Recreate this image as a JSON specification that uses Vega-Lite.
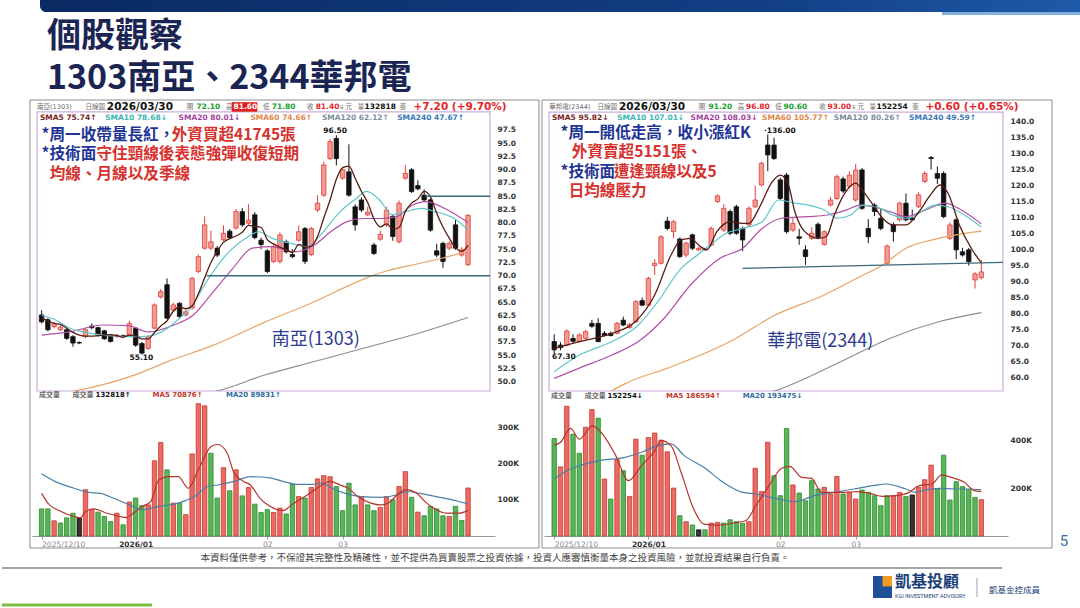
{
"$schema": "https://vega.github.io/schema/vega-lite/v6.json",
"padding": 0,
"background": "#ffffff",
"config": {"view": {"stroke": null}, "axis": {"grid": false, "labelOverlap": false, "labelSeparation": 0}},
"datasets": {
"L": [
{"i":0,"o":62.6,"h":63.5,"l":61.0,"c":61.3,"v":75,"d":"dn"},
{"i":1,"o":61.7,"h":62.0,"l":59.5,"c":59.8,"v":75,"d":"dn"},
{"i":2,"o":60.4,"h":61.3,"l":60.1,"c":61.0,"v":42,"d":"up"},
{"i":3,"o":59.8,"h":60.6,"l":59.6,"c":60.3,"v":36,"d":"dn"},
{"i":4,"o":59.8,"h":60.1,"l":57.9,"c":58.2,"v":50,"d":"dn"},
{"i":5,"o":58.5,"h":58.8,"l":56.6,"c":57.3,"v":63,"d":"dn"},
{"i":6,"o":57.4,"h":57.6,"l":57.1,"c":57.3,"v":50,"d":"eq"},
{"i":7,"o":58.5,"h":60.1,"l":58.2,"c":59.8,"v":128,"d":"up"},
{"i":8,"o":60.5,"h":61.0,"l":59.9,"c":60.2,"v":73,"d":"up"},
{"i":9,"o":60.2,"h":60.4,"l":58.5,"c":58.8,"v":66,"d":"dn"},
{"i":10,"o":59.6,"h":59.8,"l":57.9,"c":58.1,"v":54,"d":"dn"},
{"i":11,"o":58.8,"h":59.0,"l":57.4,"c":57.6,"v":40,"d":"dn"},
{"i":12,"o":58.5,"h":59.0,"l":58.3,"c":58.8,"v":63,"d":"up"},
{"i":13,"o":58.7,"h":58.9,"l":58.3,"c":58.5,"v":31,"d":"dn"},
{"i":14,"o":58.8,"h":61.5,"l":58.6,"c":61.0,"v":94,"d":"up"},
{"i":15,"o":60.1,"h":60.3,"l":56.6,"c":56.9,"v":105,"d":"dn"},
{"i":16,"o":57.2,"h":57.5,"l":55.1,"c":55.4,"v":84,"d":"dn"},
{"i":17,"o":56.3,"h":58.8,"l":56.0,"c":58.5,"v":86,"d":"up"},
{"i":18,"o":60.1,"h":64.8,"l":59.9,"c":64.5,"v":208,"d":"up"},
{"i":19,"o":66.0,"h":67.5,"l":65.7,"c":67.0,"v":259,"d":"up"},
{"i":20,"o":68.3,"h":69.5,"l":61.8,"c":62.0,"v":183,"d":"dn"},
{"i":21,"o":63.5,"h":64.9,"l":63.2,"c":64.5,"v":91,"d":"up"},
{"i":22,"o":64.8,"h":65.0,"l":62.0,"c":62.3,"v":91,"d":"dn"},
{"i":23,"o":62.6,"h":63.8,"l":62.3,"c":63.2,"v":59,"d":"up"},
{"i":24,"o":63.9,"h":69.8,"l":63.6,"c":69.5,"v":227,"d":"up"},
{"i":25,"o":70.8,"h":74.0,"l":70.5,"c":73.6,"v":366,"d":"up"},
{"i":26,"o":75.2,"h":81.2,"l":74.9,"c":79.6,"v":360,"d":"up"},
{"i":27,"o":75.2,"h":78.5,"l":74.8,"c":76.4,"v":229,"d":"dn"},
{"i":28,"o":75.2,"h":75.6,"l":73.5,"c":73.9,"v":105,"d":"dn"},
{"i":29,"o":76.8,"h":79.5,"l":76.5,"c":78.0,"v":189,"d":"up"},
{"i":30,"o":78.4,"h":78.8,"l":76.9,"c":77.2,"v":125,"d":"dn"},
{"i":31,"o":79.0,"h":82.6,"l":78.7,"c":82.1,"v":183,"d":"up"},
{"i":32,"o":82.1,"h":82.8,"l":79.2,"c":79.6,"v":111,"d":"dn"},
{"i":33,"o":79.9,"h":83.5,"l":79.6,"c":80.5,"v":134,"d":"up"},
{"i":34,"o":81.5,"h":82.0,"l":76.9,"c":77.2,"v":88,"d":"dn"},
{"i":35,"o":76.7,"h":77.2,"l":75.0,"c":75.9,"v":65,"d":"dn"},
{"i":36,"o":74.7,"h":75.0,"l":70.5,"c":70.8,"v":73,"d":"dn"},
{"i":37,"o":72.7,"h":76.0,"l":72.4,"c":75.5,"v":65,"d":"up"},
{"i":38,"o":72.7,"h":78.2,"l":72.3,"c":77.7,"v":77,"d":"up"},
{"i":39,"o":76.4,"h":76.8,"l":74.2,"c":74.5,"v":61,"d":"dn"},
{"i":40,"o":74.0,"h":75.0,"l":73.3,"c":73.6,"v":143,"d":"dn"},
{"i":41,"o":76.7,"h":79.5,"l":76.4,"c":78.3,"v":109,"d":"up"},
{"i":42,"o":78.9,"h":79.2,"l":72.2,"c":72.7,"v":105,"d":"dn"},
{"i":43,"o":74.0,"h":79.2,"l":73.7,"c":78.9,"v":134,"d":"up"},
{"i":44,"o":82.4,"h":85.2,"l":82.0,"c":83.7,"v":158,"d":"up"},
{"i":45,"o":85.2,"h":91.5,"l":84.9,"c":90.9,"v":167,"d":"up"},
{"i":46,"o":92.1,"h":95.8,"l":91.8,"c":95.3,"v":164,"d":"up"},
{"i":47,"o":95.9,"h":96.5,"l":90.8,"c":92.1,"v":137,"d":"dn"},
{"i":48,"o":88.4,"h":90.5,"l":88.1,"c":90.0,"v":70,"d":"dn"},
{"i":49,"o":89.6,"h":94.8,"l":84.9,"c":85.2,"v":146,"d":"dn"},
{"i":50,"o":83.0,"h":83.5,"l":78.5,"c":79.6,"v":86,"d":"dn"},
{"i":51,"o":84.3,"h":84.8,"l":82.0,"c":82.4,"v":109,"d":"up"},
{"i":52,"o":81.5,"h":83.0,"l":81.2,"c":82.0,"v":86,"d":"dn"},
{"i":53,"o":75.8,"h":76.2,"l":73.9,"c":74.2,"v":70,"d":"dn"},
{"i":54,"o":76.9,"h":78.5,"l":76.6,"c":77.8,"v":79,"d":"up"},
{"i":55,"o":79.6,"h":83.0,"l":79.2,"c":82.4,"v":109,"d":"up"},
{"i":56,"o":81.2,"h":81.5,"l":76.6,"c":77.4,"v":100,"d":"dn"},
{"i":57,"o":76.4,"h":84.2,"l":76.1,"c":83.7,"v":137,"d":"up"},
{"i":58,"o":88.4,"h":90.9,"l":88.1,"c":89.3,"v":178,"d":"up"},
{"i":59,"o":90.0,"h":90.3,"l":85.6,"c":85.9,"v":107,"d":"dn"},
{"i":60,"o":87.0,"h":88.0,"l":86.1,"c":86.4,"v":66,"d":"up"},
{"i":61,"o":85.2,"h":86.3,"l":83.9,"c":84.3,"v":56,"d":"dn"},
{"i":62,"o":84.3,"h":84.6,"l":78.3,"c":78.6,"v":82,"d":"dn"},
{"i":63,"o":74.7,"h":76.0,"l":73.5,"c":73.9,"v":75,"d":"dn"},
{"i":64,"o":76.1,"h":76.4,"l":71.5,"c":72.7,"v":56,"d":"dn"},
{"i":65,"o":75.2,"h":76.5,"l":74.9,"c":76.1,"v":54,"d":"up"},
{"i":66,"o":79.6,"h":80.5,"l":74.9,"c":75.2,"v":82,"d":"dn"},
{"i":67,"o":73.9,"h":75.4,"l":73.6,"c":74.9,"v":43,"d":"dn"},
{"i":68,"o":72.1,"h":81.6,"l":71.8,"c":81.4,"v":132.8,"d":"up"}
],
"Lm": [
{"m":"5","i":0,"p":62.0},{"m":"5","i":1,"p":61.5},{"m":"5","i":2,"p":61.0},{"m":"5","i":3,"p":60.8},{"m":"5","i":4,"p":60.1},{"m":"5","i":5,"p":59.3},{"m":"5","i":6,"p":58.8},{"m":"5","i":7,"p":58.6},{"m":"5","i":8,"p":58.6},{"m":"5","i":9,"p":58.7},{"m":"5","i":10,"p":58.8},{"m":"5","i":11,"p":58.9},{"m":"5","i":12,"p":58.7},{"m":"5","i":13,"p":58.4},{"m":"5","i":14,"p":58.8},{"m":"5","i":15,"p":58.6},{"m":"5","i":16,"p":58.1},{"m":"5","i":17,"p":58.1},{"m":"5","i":18,"p":59.3},{"m":"5","i":19,"p":60.5},{"m":"5","i":20,"p":61.5},{"m":"5","i":21,"p":63.3},{"m":"5","i":22,"p":64.1},{"m":"5","i":23,"p":63.8},{"m":"5","i":24,"p":64.3},{"m":"5","i":25,"p":66.6},{"m":"5","i":26,"p":69.6},{"m":"5","i":27,"p":72.5},{"m":"5","i":28,"p":74.6},{"m":"5","i":29,"p":76.3},{"m":"5","i":30,"p":77.0},{"m":"5","i":31,"p":77.5},{"m":"5","i":32,"p":78.2},{"m":"5","i":33,"p":79.5},{"m":"5","i":34,"p":79.3},{"m":"5","i":35,"p":79.1},{"m":"5","i":36,"p":76.8},{"m":"5","i":37,"p":76.0},{"m":"5","i":38,"p":75.4},{"m":"5","i":39,"p":74.9},{"m":"5","i":40,"p":74.4},{"m":"5","i":41,"p":75.9},{"m":"5","i":42,"p":75.4},{"m":"5","i":43,"p":75.6},{"m":"5","i":44,"p":77.4},{"m":"5","i":45,"p":80.9},{"m":"5","i":46,"p":84.3},{"m":"5","i":47,"p":88.2},{"m":"5","i":48,"p":90.4},{"m":"5","i":49,"p":90.7},{"m":"5","i":50,"p":88.4},{"m":"5","i":51,"p":85.9},{"m":"5","i":52,"p":83.8},{"m":"5","i":53,"p":80.7},{"m":"5","i":54,"p":79.2},{"m":"5","i":55,"p":79.8},{"m":"5","i":56,"p":78.8},{"m":"5","i":57,"p":79.1},{"m":"5","i":58,"p":82.1},{"m":"5","i":59,"p":83.7},{"m":"5","i":60,"p":84.5},{"m":"5","i":61,"p":85.9},{"m":"5","i":62,"p":84.9},{"m":"5","i":63,"p":81.8},{"m":"5","i":64,"p":79.2},{"m":"5","i":65,"p":77.1},{"m":"5","i":66,"p":75.3},{"m":"5","i":67,"p":74.6},{"m":"5","i":68,"p":75.74},
{"m":"10","i":0,"p":62.5},{"m":"10","i":2,"p":61.8},{"m":"10","i":4.5,"p":60.1},{"m":"10","i":7,"p":59.3},{"m":"10","i":9.7,"p":58.8},{"m":"10","i":12,"p":58.6},{"m":"10","i":14.9,"p":58.5},{"m":"10","i":17,"p":58.6},{"m":"10","i":20.1,"p":60.1},{"m":"10","i":22,"p":62.0},{"m":"10","i":23.7,"p":63.8},{"m":"10","i":26.3,"p":68.9},{"m":"10","i":29.4,"p":73.9},{"m":"10","i":32.6,"p":77.1},{"m":"10","i":34.6,"p":78.3},{"m":"10","i":36.7,"p":77.1},{"m":"10","i":39.8,"p":76.1},{"m":"10","i":42.4,"p":75.5},{"m":"10","i":44.5,"p":77.7},{"m":"10","i":47.6,"p":82.1},{"m":"10","i":50.2,"p":84.6},{"m":"10","i":51.8,"p":85.9},{"m":"10","i":53.9,"p":84.3},{"m":"10","i":55.9,"p":81.5},{"m":"10","i":58,"p":82.1},{"m":"10","i":60.6,"p":82.7},{"m":"10","i":62.7,"p":82.1},{"m":"10","i":65.8,"p":80.8},{"m":"10","i":68,"p":78.68},
{"m":"20","i":0,"p":58.8},{"m":"20","i":4.5,"p":59.4},{"m":"20","i":9.7,"p":60.7},{"m":"20","i":13.8,"p":60.6},{"m":"20","i":17,"p":59.4},{"m":"20","i":21.1,"p":60.7},{"m":"20","i":24.2,"p":62.6},{"m":"20","i":27.4,"p":67.0},{"m":"20","i":30.5,"p":71.4},{"m":"20","i":33.6,"p":75.2},{"m":"20","i":36.7,"p":75.5},{"m":"20","i":40.3,"p":74.5},{"m":"20","i":43.5,"p":75.8},{"m":"20","i":46.1,"p":78.3},{"m":"20","i":48.7,"p":80.2},{"m":"20","i":51.3,"p":80.8},{"m":"20","i":53.9,"p":80.8},{"m":"20","i":56.5,"p":81.1},{"m":"20","i":59.1,"p":83.3},{"m":"20","i":61.2,"p":84.0},{"m":"20","i":64.3,"p":82.7},{"m":"20","i":67.4,"p":80.5},{"m":"20","i":68,"p":80.01},
{"m":"60","i":3,"p":47.8},{"m":"60","i":4.5,"p":48.1},{"m":"60","i":14.9,"p":51.3},{"m":"60","i":20.1,"p":53.8},{"m":"60","i":27.4,"p":56.9},{"m":"60","i":35.7,"p":61.3},{"m":"60","i":43.5,"p":65.1},{"m":"60","i":48.7,"p":68.0},{"m":"60","i":51.8,"p":69.6},{"m":"60","i":55,"p":70.9},{"m":"60","i":59,"p":72.0},{"m":"60","i":63.8,"p":73.3},{"m":"60","i":68,"p":74.66},
{"m":"120","i":26,"p":47.8},{"m":"120","i":27.4,"p":48.1},{"m":"120","i":35.7,"p":51.3},{"m":"120","i":43.5,"p":53.8},{"m":"120","i":51.3,"p":56.3},{"m":"120","i":59.1,"p":58.8},{"m":"120","i":68,"p":62.12}
],
"La": [
{"g":"lab","r":"gray","i":-0.72,"p":101.84,"t":"南亞(1303)"},
{"g":"lab","r":"gray","i":7.0,"p":101.84,"t":"日線圖"},
{"g":"bigv","r":"black","i":10.4,"p":101.84,"t":"2026/03/30"},
{"g":"lab","r":"gray","i":23.14,"p":101.84,"t":"開"},
{"g":"val","r":"dn","i":24.7,"p":101.84,"t":"72.10"},
{"g":"lab","r":"gray","i":29.4,"p":101.84,"t":"高"},
{"g":"val","r":"white","i":30.6,"p":101.84,"t":"81.60"},
{"g":"lab","r":"gray","i":35.3,"p":101.84,"t":"低"},
{"g":"val","r":"dn","i":36.7,"p":101.84,"t":"71.80"},
{"g":"lab","r":"gray","i":42.3,"p":101.84,"t":"收"},
{"g":"val","r":"up","i":43.7,"p":101.84,"t":"81.40"},
{"g":"lab","r":"gray","i":47.6,"p":101.84,"t":"s 元"},
{"g":"lab","r":"gray","i":50.4,"p":101.84,"t":"量"},
{"g":"val","r":"black","i":51.5,"p":101.84,"t":"132818"},
{"g":"lab","r":"gray","i":57.1,"p":101.84,"t":"張"},
{"g":"bigv","r":"up","i":59.3,"p":101.84,"t":"+7.20 (+9.70%)"},
{"g":"sma","r":"s5","i":-0.27,"p":99.76,"t":"SMA5 75.74↑"},
{"g":"sma","r":"s10","i":10.14,"p":99.76,"t":"SMA10 78.68↓"},
{"g":"sma","r":"s20","i":21.84,"p":99.76,"t":"SMA20 80.01↓"},
{"g":"sma","r":"s60","i":33.3,"p":99.76,"t":"SMA60 74.66↑"},
{"g":"sma","r":"s120","i":44.7,"p":99.76,"t":"SMA120 62.12↑"},
{"g":"sma","r":"s240","i":56.7,"p":99.76,"t":"SMA240 47.67↑"},
{"g":"big","r":"blue","i":0.0,"p":96.62,"t":"*周一收帶量長紅，"},
{"g":"big","r":"red","i":20.75,"p":96.62,"t":"外資買超41745張"},
{"g":"big","r":"blue","i":0.0,"p":93.0,"t":"*技術面"},
{"g":"big","r":"red","i":8.75,"p":93.0,"t":"守住頸線後表態強彈收復短期"},
{"g":"big","r":"red","i":1.3,"p":89.2,"t":"均線、月線以及季線"},
{"g":"name","r":"navy","i":36.7,"p":57.88,"t":"南亞(1303)"},
{"g":"lblc","r":"black","i":46.8,"p":97.3,"t":"96.50"},
{"g":"lblc","r":"black","i":15.9,"p":54.4,"t":"55.10"}
],
"Lvm": [
{"m":"5","i":0,"p":118},{"m":"5","i":1,"p":91},{"m":"5","i":3.1,"p":68},{"m":"5","i":5.2,"p":54},{"m":"5","i":6.2,"p":50},{"m":"5","i":7,"p":68},{"m":"5","i":8.3,"p":75},{"m":"5","i":10.4,"p":63},{"m":"5","i":12.5,"p":54},{"m":"5","i":13.5,"p":51},{"m":"5","i":14.6,"p":63},{"m":"5","i":16.1,"p":82},{"m":"5","i":17.4,"p":95},{"m":"5","i":18.7,"p":155},{"m":"5","i":20.3,"p":164},{"m":"5","i":21.8,"p":164},{"m":"5","i":23.4,"p":132},{"m":"5","i":25,"p":183},{"m":"5","i":27,"p":247},{"m":"5","i":28.1,"p":253},{"m":"5","i":29.6,"p":229},{"m":"5","i":30.7,"p":174},{"m":"5","i":32.2,"p":151},{"m":"5","i":33.3,"p":141},{"m":"5","i":34.8,"p":105},{"m":"5","i":36.4,"p":82},{"m":"5","i":38.5,"p":70},{"m":"5","i":40,"p":88},{"m":"5","i":41.6,"p":105},{"m":"5","i":43.2,"p":123},{"m":"5","i":44.7,"p":141},{"m":"5","i":46,"p":151},{"m":"5","i":47.6,"p":141},{"m":"5","i":48.9,"p":132},{"m":"5","i":50.4,"p":109},{"m":"5","i":52.5,"p":91},{"m":"5","i":54.1,"p":86},{"m":"5","i":55.6,"p":95},{"m":"5","i":56.7,"p":114},{"m":"5","i":58.2,"p":128},{"m":"5","i":59.8,"p":118},{"m":"5","i":61.4,"p":91},{"m":"5","i":62.9,"p":73},{"m":"5","i":64.5,"p":63},{"m":"5","i":66.6,"p":63},{"m":"5","i":68,"p":70.9},
{"m":"20","i":0,"p":172},{"m":"20","i":2.1,"p":151},{"m":"20","i":5.2,"p":132},{"m":"20","i":7.3,"p":121},{"m":"20","i":9.4,"p":118},{"m":"20","i":11.4,"p":105},{"m":"20","i":14,"p":86},{"m":"20","i":16.1,"p":73},{"m":"20","i":18.7,"p":82},{"m":"20","i":21.8,"p":91},{"m":"20","i":24.4,"p":109},{"m":"20","i":26.5,"p":137},{"m":"20","i":28.1,"p":141},{"m":"20","i":30.7,"p":151},{"m":"20","i":33.3,"p":164},{"m":"20","i":36.4,"p":161},{"m":"20","i":38.5,"p":151},{"m":"20","i":40.6,"p":143},{"m":"20","i":43.2,"p":143},{"m":"20","i":44.7,"p":146},{"m":"20","i":46.3,"p":132},{"m":"20","i":48.4,"p":118},{"m":"20","i":51,"p":109},{"m":"20","i":54.1,"p":107},{"m":"20","i":56.7,"p":114},{"m":"20","i":58.2,"p":123},{"m":"20","i":60.3,"p":118},{"m":"20","i":62.9,"p":109},{"m":"20","i":65.5,"p":100},{"m":"20","i":67.6,"p":91},{"m":"20","i":68,"p":89.8}
],
"Lva": [
{"r":"gray","i":-0.42,"p":389,"t":"成交量"},
{"r":"gray","i":4.93,"p":389,"t":"成交量"},
{"r":"black","i":8.6,"p":389,"t":"132818↑"},
{"r":"vma5","i":17.7,"p":389,"t":"MA5 70876↑"},
{"r":"vma20","i":29.4,"p":389,"t":"MA20 89831↑"}
],
"R": [
{"i":0,"o":71.2,"h":73.5,"l":67.3,"c":68.6,"v":409,"d":"dn"},
{"i":1,"o":70.1,"h":71.0,"l":68.5,"c":69.3,"v":290,"d":"up"},
{"i":2,"o":70.1,"h":75.0,"l":69.8,"c":74.5,"v":544,"d":"up"},
{"i":3,"o":72.2,"h":73.5,"l":70.8,"c":71.3,"v":427,"d":"dn"},
{"i":4,"o":71.2,"h":73.8,"l":70.9,"c":73.3,"v":347,"d":"dn"},
{"i":5,"o":72.2,"h":74.8,"l":71.8,"c":74.3,"v":456,"d":"up"},
{"i":6,"o":76.9,"h":78.0,"l":75.5,"c":76.0,"v":530,"d":"up"},
{"i":7,"o":76.9,"h":78.5,"l":71.0,"c":71.2,"v":494,"d":"dn"},
{"i":8,"o":73.8,"h":74.5,"l":72.8,"c":73.1,"v":239,"d":"up"},
{"i":9,"o":73.8,"h":74.3,"l":72.8,"c":73.1,"v":155,"d":"dn"},
{"i":10,"o":73.8,"h":77.4,"l":73.5,"c":76.9,"v":320,"d":"up"},
{"i":11,"o":77.9,"h":79.0,"l":76.0,"c":76.4,"v":274,"d":"dn"},
{"i":12,"o":75.6,"h":77.0,"l":75.2,"c":76.6,"v":166,"d":"up"},
{"i":13,"o":77.4,"h":84.2,"l":77.0,"c":83.7,"v":406,"d":"up"},
{"i":14,"o":84.0,"h":85.0,"l":82.3,"c":82.6,"v":339,"d":"dn"},
{"i":15,"o":82.6,"h":91.5,"l":82.3,"c":91.0,"v":413,"d":"up"},
{"i":16,"o":95.0,"h":97.0,"l":92.0,"c":95.7,"v":432,"d":"up"},
{"i":17,"o":95.7,"h":104.5,"l":95.3,"c":104.0,"v":402,"d":"up"},
{"i":18,"o":108.9,"h":110.2,"l":106.0,"c":106.6,"v":353,"d":"up"},
{"i":19,"o":105.6,"h":109.2,"l":103.5,"c":108.7,"v":201,"d":"up"},
{"i":20,"o":103.3,"h":103.8,"l":97.3,"c":97.8,"v":85,"d":"dn"},
{"i":21,"o":98.3,"h":102.5,"l":97.5,"c":102.0,"v":60,"d":"up"},
{"i":22,"o":104.6,"h":105.0,"l":99.8,"c":100.4,"v":46,"d":"dn"},
{"i":23,"o":99.9,"h":100.8,"l":99.5,"c":100.4,"v":26,"d":"eq"},
{"i":24,"o":100.2,"h":100.5,"l":99.6,"c":100.0,"v":26,"d":"dn"},
{"i":25,"o":101.4,"h":107.2,"l":101.0,"c":106.6,"v":54,"d":"up"},
{"i":26,"o":115.0,"h":117.3,"l":114.6,"c":116.8,"v":57,"d":"up"},
{"i":27,"o":106.1,"h":114.2,"l":105.5,"c":112.9,"v":54,"d":"dn"},
{"i":28,"o":111.9,"h":112.5,"l":104.5,"c":105.1,"v":68,"d":"dn"},
{"i":29,"o":113.4,"h":114.0,"l":104.6,"c":105.1,"v":60,"d":"dn"},
{"i":30,"o":106.6,"h":107.2,"l":99.5,"c":103.0,"v":53,"d":"dn"},
{"i":31,"o":107.7,"h":113.5,"l":107.2,"c":112.9,"v":60,"d":"up"},
{"i":32,"o":113.4,"h":120.0,"l":113.0,"c":115.5,"v":284,"d":"up"},
{"i":33,"o":120.2,"h":127.5,"l":119.8,"c":127.0,"v":186,"d":"up"},
{"i":34,"o":132.7,"h":136.0,"l":124.5,"c":129.6,"v":393,"d":"up"},
{"i":35,"o":132.7,"h":135.0,"l":128.0,"c":128.5,"v":253,"d":"dn"},
{"i":36,"o":121.8,"h":122.5,"l":115.5,"c":116.0,"v":169,"d":"dn"},
{"i":37,"o":123.3,"h":124.0,"l":105.0,"c":105.6,"v":451,"d":"dn"},
{"i":38,"o":106.1,"h":110.0,"l":105.5,"c":108.2,"v":214,"d":"up"},
{"i":39,"o":104.0,"h":106.5,"l":101.5,"c":103.5,"v":180,"d":"dn"},
{"i":40,"o":99.9,"h":101.3,"l":95.2,"c":97.8,"v":148,"d":"dn"},
{"i":41,"o":103.5,"h":107.0,"l":103.0,"c":105.1,"v":232,"d":"dn"},
{"i":42,"o":107.9,"h":108.5,"l":103.2,"c":103.7,"v":197,"d":"dn"},
{"i":43,"o":101.6,"h":106.0,"l":101.2,"c":105.6,"v":204,"d":"up"},
{"i":44,"o":113.9,"h":116.5,"l":113.5,"c":115.5,"v":176,"d":"up"},
{"i":45,"o":116.0,"h":123.5,"l":115.5,"c":122.8,"v":250,"d":"up"},
{"i":46,"o":122.1,"h":122.8,"l":117.7,"c":118.3,"v":176,"d":"dn"},
{"i":47,"o":119.7,"h":124.5,"l":119.2,"c":123.3,"v":183,"d":"up"},
{"i":48,"o":115.5,"h":126.8,"l":115.0,"c":124.9,"v":155,"d":"up"},
{"i":49,"o":124.9,"h":125.5,"l":112.4,"c":112.9,"v":193,"d":"dn"},
{"i":50,"o":106.6,"h":109.5,"l":102.0,"c":104.0,"v":183,"d":"dn"},
{"i":51,"o":113.9,"h":114.5,"l":110.5,"c":111.9,"v":169,"d":"dn"},
{"i":52,"o":109.8,"h":113.0,"l":106.0,"c":106.6,"v":127,"d":"dn"},
{"i":53,"o":95.7,"h":101.6,"l":95.2,"c":101.1,"v":169,"d":"dn"},
{"i":54,"o":107.7,"h":108.5,"l":102.5,"c":105.6,"v":169,"d":"up"},
{"i":55,"o":109.3,"h":115.0,"l":108.8,"c":114.5,"v":183,"d":"up"},
{"i":56,"o":114.5,"h":117.5,"l":108.8,"c":109.3,"v":166,"d":"dn"},
{"i":57,"o":109.8,"h":112.5,"l":109.3,"c":109.3,"v":172,"d":"eq"},
{"i":58,"o":113.4,"h":118.0,"l":113.0,"c":117.1,"v":204,"d":"up"},
{"i":59,"o":121.3,"h":124.5,"l":120.8,"c":123.8,"v":236,"d":"up"},
{"i":60,"o":128.8,"h":129.3,"l":125.0,"c":128.5,"v":297,"d":"up"},
{"i":61,"o":123.8,"h":126.0,"l":120.5,"c":122.3,"v":197,"d":"dn"},
{"i":62,"o":123.8,"h":124.5,"l":109.8,"c":110.3,"v":339,"d":"dn"},
{"i":63,"o":103.5,"h":108.5,"l":103.0,"c":107.7,"v":151,"d":"dn"},
{"i":64,"o":109.3,"h":109.8,"l":97.0,"c":99.9,"v":228,"d":"dn"},
{"i":65,"o":99.3,"h":100.5,"l":97.8,"c":98.3,"v":207,"d":"dn"},
{"i":66,"o":99.9,"h":100.5,"l":95.0,"c":96.2,"v":195,"d":"dn"},
{"i":67,"o":90.5,"h":92.9,"l":87.8,"c":92.4,"v":162,"d":"dn"},
{"i":68,"o":91.2,"h":96.8,"l":90.6,"c":93.0,"v":152.3,"d":"up"}
],
"Rm": [
{"m":"5","i":0,"p":69.1},{"m":"5","i":4,"p":71.2},{"m":"5","i":9.2,"p":73.8},{"m":"5","i":12.9,"p":77.4},{"m":"5","i":16,"p":85.8},{"m":"5","i":18.6,"p":98.3},{"m":"5","i":20.2,"p":103.0},{"m":"5","i":21.7,"p":103.5},{"m":"5","i":23.3,"p":100.9},{"m":"5","i":24.3,"p":99.9},{"m":"5","i":25.9,"p":105.6},{"m":"5","i":28,"p":108.7},{"m":"5","i":30,"p":108.2},{"m":"5","i":31,"p":108.2},{"m":"5","i":32.6,"p":112.9},{"m":"5","i":34.7,"p":121.2},{"m":"5","i":36,"p":123.3},{"m":"5","i":37.3,"p":120.2},{"m":"5","i":38.3,"p":111.9},{"m":"5","i":39.9,"p":105.6},{"m":"5","i":42,"p":103.5},{"m":"5","i":43.3,"p":104.0},{"m":"5","i":44.6,"p":110.8},{"m":"5","i":46.1,"p":117.1},{"m":"5","i":48,"p":120.8},{"m":"5","i":49.2,"p":118.1},{"m":"5","i":50.8,"p":113.9},{"m":"5","i":52.3,"p":109.8},{"m":"5","i":53.9,"p":107.7},{"m":"5","i":56,"p":107.7},{"m":"5","i":58.1,"p":111.9},{"m":"5","i":59.9,"p":117.1},{"m":"5","i":61.4,"p":120.2},{"m":"5","i":62.7,"p":117.6},{"m":"5","i":64.5,"p":107.7},{"m":"5","i":66.4,"p":100.4},{"m":"5","i":68,"p":95.82},
{"m":"10","i":0,"p":61.8},{"m":"10","i":4,"p":67.0},{"m":"10","i":9.2,"p":71.2},{"m":"10","i":13.4,"p":76.4},{"m":"10","i":16.5,"p":83.7},{"m":"10","i":20.2,"p":94.1},{"m":"10","i":22.8,"p":98.3},{"m":"10","i":24.8,"p":101.4},{"m":"10","i":27.4,"p":105.1},{"m":"10","i":30,"p":106.6},{"m":"10","i":33.1,"p":108.7},{"m":"10","i":35.7,"p":115.5},{"m":"10","i":38.3,"p":114.5},{"m":"10","i":40.4,"p":113.9},{"m":"10","i":43,"p":112.4},{"m":"10","i":45.1,"p":109.8},{"m":"10","i":47.2,"p":110.8},{"m":"10","i":49.2,"p":113.9},{"m":"10","i":51.3,"p":113.4},{"m":"10","i":53.9,"p":110.8},{"m":"10","i":56,"p":109.8},{"m":"10","i":58.1,"p":111.4},{"m":"10","i":60.6,"p":113.9},{"m":"10","i":62.7,"p":113.4},{"m":"10","i":65.3,"p":110.8},{"m":"10","i":68,"p":107.01},
{"m":"20","i":0,"p":59.7},{"m":"20","i":4,"p":62.9},{"m":"20","i":9.2,"p":67.0},{"m":"20","i":13.4,"p":71.2},{"m":"20","i":17.5,"p":78.5},{"m":"20","i":21.7,"p":88.9},{"m":"20","i":26.4,"p":97.3},{"m":"20","i":30,"p":100.4},{"m":"20","i":33.1,"p":106.6},{"m":"20","i":36.2,"p":109.8},{"m":"20","i":40.4,"p":110.3},{"m":"20","i":43.5,"p":110.8},{"m":"20","i":46.6,"p":112.4},{"m":"20","i":48.7,"p":113.9},{"m":"20","i":50.8,"p":113.4},{"m":"20","i":53.4,"p":111.9},{"m":"20","i":56,"p":110.3},{"m":"20","i":59.1,"p":112.4},{"m":"20","i":62.2,"p":114.5},{"m":"20","i":64.8,"p":112.4},{"m":"20","i":68,"p":108.03},
{"m":"60","i":8,"p":54.0},{"m":"60","i":9,"p":55.5},{"m":"60","i":11.8,"p":58.5},{"m":"60","i":18.1,"p":62.9},{"m":"60","i":28,"p":71.2},{"m":"60","i":35.2,"p":79.5},{"m":"60","i":43,"p":85.8},{"m":"60","i":48.2,"p":91.0},{"m":"60","i":52.3,"p":95.2},{"m":"60","i":56,"p":100.4},{"m":"60","i":61.2,"p":103.5},{"m":"60","i":68,"p":105.77},
{"m":"120","i":33,"p":54.5},{"m":"120","i":34.7,"p":55.5},{"m":"120","i":45.6,"p":64.9},{"m":"120","i":53.4,"p":72.2},{"m":"120","i":61.2,"p":77.4},{"m":"120","i":68,"p":80.26}
],
"Ra": [
{"g":"lab","r":"gray","i":-0.8,"p":144.6,"t":"華邦電(2344)"},
{"g":"lab","r":"gray","i":6.9,"p":144.6,"t":"日線圖"},
{"g":"bigv","r":"black","i":10.3,"p":144.6,"t":"2026/03/30"},
{"g":"lab","r":"gray","i":23.0,"p":144.6,"t":"開"},
{"g":"val","r":"dn","i":24.56,"p":144.6,"t":"91.20"},
{"g":"lab","r":"gray","i":29.24,"p":144.6,"t":"高"},
{"g":"val","r":"up","i":30.53,"p":144.6,"t":"96.80"},
{"g":"lab","r":"gray","i":35.2,"p":144.6,"t":"低"},
{"g":"val","r":"dn","i":36.5,"p":144.6,"t":"90.60"},
{"g":"lab","r":"gray","i":42.2,"p":144.6,"t":"收"},
{"g":"val","r":"up","i":43.5,"p":144.6,"t":"93.00"},
{"g":"lab","r":"gray","i":47.4,"p":144.6,"t":"s 元"},
{"g":"lab","r":"gray","i":50.2,"p":144.6,"t":"量"},
{"g":"val","r":"black","i":51.3,"p":144.6,"t":"152254"},
{"g":"lab","r":"gray","i":57.0,"p":144.6,"t":"張"},
{"g":"bigv","r":"up","i":59.1,"p":144.6,"t":"+0.60 (+0.65%)"},
{"g":"sma","r":"s5","i":-0.36,"p":141.16,"t":"SMA5 95.82↓"},
{"g":"sma","r":"s10","i":10.03,"p":141.16,"t":"SMA10 107.01↓"},
{"g":"sma","r":"s20","i":21.7,"p":141.16,"t":"SMA20 108.03↓"},
{"g":"sma","r":"s60","i":33.1,"p":141.16,"t":"SMA60 105.77↑"},
{"g":"sma","r":"s120","i":44.5,"p":141.16,"t":"SMA120 80.26↑"},
{"g":"sma","r":"s240","i":56.5,"p":141.16,"t":"SMA240 49.59↑"},
{"g":"big","r":"blue","i":1.0,"p":136.4,"t":"*周一開低走高，收小漲紅K"},
{"g":"big","r":"red","i":2.8,"p":130.46,"t":"外資賣超5151張、"},
{"g":"big","r":"blue","i":1.0,"p":124.2,"t":"*技術面"},
{"g":"big","r":"red","i":9.5,"p":124.2,"t":"遭逢頸線以及5"},
{"g":"big","r":"red","i":2.3,"p":118.3,"t":"日均線壓力"},
{"g":"name","r":"navy","i":33.9,"p":71.16,"t":"華邦電(2344)"},
{"g":"lbll","r":"black","i":33.4,"p":137.1,"t":"·136.00"},
{"g":"lbll","r":"black","i":-0.36,"p":66.5,"t":"67.30"}
],
"Rvm": [
{"m":"5","i":0,"p":381},{"m":"5","i":1,"p":393},{"m":"5","i":2.6,"p":451},{"m":"5","i":4,"p":406},{"m":"5","i":6.1,"p":462},{"m":"5","i":7.7,"p":427},{"m":"5","i":9.8,"p":337},{"m":"5","i":11.8,"p":232},{"m":"5","i":13.9,"p":295},{"m":"5","i":16,"p":357},{"m":"5","i":17,"p":400},{"m":"5","i":18.6,"p":379},{"m":"5","i":20.2,"p":267},{"m":"5","i":22.2,"p":113},{"m":"5","i":23.8,"p":50},{"m":"5","i":25.9,"p":46},{"m":"5","i":28.5,"p":54},{"m":"5","i":30.5,"p":64},{"m":"5","i":32.1,"p":127},{"m":"5","i":34.2,"p":211},{"m":"5","i":36.2,"p":284},{"m":"5","i":37.5,"p":292},{"m":"5","i":39.4,"p":246},{"m":"5","i":41,"p":242},{"m":"5","i":42.5,"p":183},{"m":"5","i":44.6,"p":183},{"m":"5","i":46.1,"p":183},{"m":"5","i":48.2,"p":186},{"m":"5","i":50.3,"p":179},{"m":"5","i":52.3,"p":166},{"m":"5","i":54.4,"p":169},{"m":"5","i":56.5,"p":183},{"m":"5","i":58.1,"p":211},{"m":"5","i":60.1,"p":218},{"m":"5","i":61.7,"p":256},{"m":"5","i":63.2,"p":246},{"m":"5","i":65.3,"p":225},{"m":"5","i":66.9,"p":190},{"m":"5","i":68,"p":186.6},
{"m":"20","i":0,"p":239},{"m":"20","i":2,"p":274},{"m":"20","i":4,"p":295},{"m":"20","i":7.2,"p":316},{"m":"20","i":11.3,"p":330},{"m":"20","i":13.9,"p":351},{"m":"20","i":16.5,"p":379},{"m":"20","i":18.6,"p":386},{"m":"20","i":20.7,"p":337},{"m":"20","i":23.8,"p":288},{"m":"20","i":26.9,"p":225},{"m":"20","i":30,"p":183},{"m":"20","i":32.1,"p":176},{"m":"20","i":35.2,"p":158},{"m":"20","i":38.3,"p":144},{"m":"20","i":41.4,"p":169},{"m":"20","i":44.6,"p":183},{"m":"20","i":47.7,"p":197},{"m":"20","i":50.8,"p":211},{"m":"20","i":52.9,"p":218},{"m":"20","i":56,"p":197},{"m":"20","i":57.5,"p":183},{"m":"20","i":59.1,"p":193},{"m":"20","i":61.2,"p":200},{"m":"20","i":63.8,"p":197},{"m":"20","i":65.8,"p":197},{"m":"20","i":68,"p":193.5}
],
"Rva": [
{"r":"gray","i":-0.5,"p":588,"t":"成交量"},
{"r":"gray","i":4.85,"p":588,"t":"成交量"},
{"r":"black","i":8.5,"p":588,"t":"152254↓"},
{"r":"vma5","i":17.8,"p":588,"t":"MA5 186594↑"},
{"r":"vma20","i":30.0,"p":588,"t":"MA20 193475↓"}
]
},
"columns": 4,
"spacing": 0,
"bounds": "flush",
"concat": [
{"width": 30, "height": 1, "data": {"values": []}, "mark": "point", "encoding": {}},
{
"width": 463, "height": 101,
"layer": [
{"data": {"values": [{"a": -0.00432, "a2": 1.095, "b": 0.9901, "b2": 5.4257}, {"a": 1.1015, "a2": 2.203, "b": 0.9901, "b2": 5.4257}]},
 "mark": {"type": "rect", "filled": false, "stroke": "#8c8c8c", "strokeWidth": 1},
 "encoding": {"x": {"field": "a", "type": "quantitative", "scale": {"domain": [0, 1], "nice": false, "zero": false}, "axis": null}, "x2": {"field": "a2"}, "y": {"field": "b", "type": "quantitative", "scale": {"domain": [0, 1], "reverse": true, "nice": false, "zero": false}, "axis": null}, "y2": {"field": "b2"}}},
{"data": {"values": [{"a": 0.01728, "a2": 2.2678, "b": 0.0, "b2": 0.1188}]},
 "mark": {"type": "rect", "cornerRadiusBottomLeft": 12, "color": {"gradient": "linear", "x1": 0, "y1": 0, "x2": 1, "y2": 0, "stops": [{"offset": 0, "color": "#0a2a62"}, {"offset": 0.7, "color": "#123f85"}, {"offset": 1, "color": "#1e5ba8"}]}},
 "encoding": {"x": {"field": "a", "type": "quantitative"}, "x2": {"field": "a2"}, "y": {"field": "b", "type": "quantitative"}, "y2": {"field": "b2"}}},
{"data": {"values": [{"a": 1.9654, "a2": 2.2678, "b": 0.1188, "b2": 0.1485}]},
 "mark": {"type": "rect", "color": "#7fb0e0"},
 "encoding": {"x": {"field": "a", "type": "quantitative"}, "x2": {"field": "a2"}, "y": {"field": "b", "type": "quantitative"}, "y2": {"field": "b2"}}},
{"data": {"values": [{"a": 0.0324, "b": 0.465, "t": "個股觀察"}]},
 "mark": {"type": "text", "align": "left", "baseline": "alphabetic", "font": "Noto Sans CJK TC", "fontSize": 34, "fontWeight": "bold", "color": "#1b2553"},
 "encoding": {"x": {"field": "a", "type": "quantitative"}, "y": {"field": "b", "type": "quantitative"}, "text": {"field": "t"}}},
{"data": {"values": [{"a": 0.0324, "b": 0.886, "t": "1303南亞、2344華邦電"}]},
 "mark": {"type": "text", "align": "left", "baseline": "alphabetic", "font": "Noto Sans CJK TC", "fontSize": 34, "fontWeight": "bold", "color": "#1b2553"},
 "encoding": {"x": {"field": "a", "type": "quantitative"}, "y": {"field": "b", "type": "quantitative"}, "text": {"field": "t"}}}
]
},
{"width": 49, "height": 1, "data": {"values": []}, "mark": "point", "encoding": {}},
{"width": 464, "height": 1, "data": {"values": []}, "mark": "point", "encoding": {}},
{"width": 30, "height": 1, "data": {"values": []}, "mark": "point", "encoding": {}},
{
"width": 463, "height": 290,
"encoding": {"x": {"field": "i", "type": "quantitative", "scale": {"domain": [-0.733, 71.5], "nice": false, "zero": false}, "axis": null}},
"layer": [
{"data": {"name": "L"}, "mark": {"type": "rule", "strokeWidth": 1},
 "encoding": {"y": {"field": "l", "type": "quantitative", "scale": {"domain": [48.25, 102.97], "nice": false, "zero": false}, "axis": {"orient": "right", "values": [50, 52.5, 55, 57.5, 60, 62.5, 65, 67.5, 70, 72.5, 75, 77.5, 80, 82.5, 85, 87.5, 90, 92.5, 95, 97.5], "tickCount": 40, "format": ".1f", "labelOverlap": false, "labelBound": false, "labelFont": "DejaVu Sans", "labelFontSize": 7.5, "labelFontWeight": "bold", "labelColor": "#333333", "domain": false, "ticks": false, "labelPadding": 2, "title": null}},
  "y2": {"field": "h"}, "color": {"condition": {"test": "datum.c >= datum.o", "value": "#e0403a"}, "value": "#111111"}}},
{"data": {"values": [{"i": -0.733, "i2": 71.5, "p": 48.25, "p2": 100.9}]}, "mark": {"type": "rect", "filled": false, "stroke": "#c9aedc", "strokeWidth": 1.2}, "encoding": {"x2": {"field": "i2"}, "y": {"field": "p", "type": "quantitative"}, "y2": {"field": "p2"}}},
{"data": {"name": "L"}, "mark": {"type": "bar", "width": 4.4, "orient": "vertical", "strokeWidth": 0.8},
 "encoding": {"y": {"field": "o", "type": "quantitative"}, "y2": {"field": "c"}, "fill": {"condition": {"test": "datum.c >= datum.o", "value": "#f39a93"}, "value": "#111111"}, "stroke": {"condition": {"test": "datum.c >= datum.o", "value": "#e0403a"}, "value": "#111111"}}},
{"data": {"name": "Lm"}, "transform": [{"filter": "datum.m == '120'"}], "mark": {"type": "line", "color": "#8d8d8d", "strokeWidth": 1.1, "clip": true, "interpolate": "monotone"}, "encoding": {"y": {"field": "p", "type": "quantitative"}}},
{"data": {"name": "Lm"}, "transform": [{"filter": "datum.m == '60'"}], "mark": {"type": "line", "color": "#e8a466", "strokeWidth": 1.2, "clip": true, "interpolate": "monotone"}, "encoding": {"y": {"field": "p", "type": "quantitative"}}},
{"data": {"name": "Lm"}, "transform": [{"filter": "datum.m == '20'"}], "mark": {"type": "line", "color": "#b24fa6", "strokeWidth": 1.2, "clip": true, "interpolate": "monotone"}, "encoding": {"y": {"field": "p", "type": "quantitative"}}},
{"data": {"name": "Lm"}, "transform": [{"filter": "datum.m == '10'"}], "mark": {"type": "line", "color": "#5cc6c8", "strokeWidth": 1.2, "clip": true, "interpolate": "monotone"}, "encoding": {"y": {"field": "p", "type": "quantitative"}}},
{"data": {"name": "Lm"}, "transform": [{"filter": "datum.m == '5'"}], "mark": {"type": "line", "color": "#5a1c14", "strokeWidth": 1.3, "clip": true, "interpolate": "monotone"}, "encoding": {"y": {"field": "p", "type": "quantitative"}}},
{"data": {"values": [{"i": 26.3, "i2": 71.5, "p": 70.0}, {"i": 61.2, "i2": 71.5, "p": 85.0}]}, "mark": {"type": "rule", "color": "#3d6878", "strokeWidth": 1.3}, "encoding": {"x2": {"field": "i2"}, "y": {"field": "p", "type": "quantitative"}}},
{"data": {"values": [{"i": 30.3, "i2": 34.4, "p": 102.75, "p2": 100.95}]}, "mark": {"type": "rect", "color": "#e02020"}, "encoding": {"x2": {"field": "i2"}, "y": {"field": "p", "type": "quantitative"}, "y2": {"field": "p2"}}},
{"data": {"name": "La"}, "transform": [{"filter": "datum.g == 'lab'"}], "mark": {"type": "text", "align": "left", "baseline": "middle", "font": "DejaVu Sans, Noto Sans CJK TC", "fontSize": 6.5},
 "encoding": {"y": {"field": "p", "type": "quantitative"}, "text": {"field": "t"}, "color": {"field": "r", "type": "nominal", "legend": null, "scale": {"domain": ["gray","black","up","dn","white","s5","s10","s20","s60","s120","s240","blue","red","navy","vma5","vma20"], "range": ["#6b6b6b","#111111","#e3262b","#16a02a","#ffffff","#7a1f1f","#3cb5b5","#a4449c","#e0874a","#7d8e9c","#3a7ab8","#1f3596","#d6322e","#2b3a92","#c0392b","#2f6ea0"]}}}},
{"data": {"name": "La"}, "transform": [{"filter": "datum.g == 'val'"}], "mark": {"type": "text", "align": "left", "baseline": "middle", "font": "DejaVu Sans", "fontSize": 7.5, "fontWeight": "bold"},
 "encoding": {"y": {"field": "p", "type": "quantitative"}, "text": {"field": "t"}, "color": {"field": "r", "type": "nominal", "legend": null, "scale": {"domain": ["gray","black","up","dn","white","s5","s10","s20","s60","s120","s240","blue","red","navy","vma5","vma20"], "range": ["#6b6b6b","#111111","#e3262b","#16a02a","#ffffff","#7a1f1f","#3cb5b5","#a4449c","#e0874a","#7d8e9c","#3a7ab8","#1f3596","#d6322e","#2b3a92","#c0392b","#2f6ea0"]}}}},
{"data": {"name": "La"}, "transform": [{"filter": "datum.g == 'bigv'"}], "mark": {"type": "text", "align": "left", "baseline": "middle", "font": "DejaVu Sans", "fontSize": 10.5, "fontWeight": "bold"},
 "encoding": {"y": {"field": "p", "type": "quantitative"}, "text": {"field": "t"}, "color": {"field": "r", "type": "nominal", "legend": null, "scale": {"domain": ["gray","black","up","dn","white","s5","s10","s20","s60","s120","s240","blue","red","navy","vma5","vma20"], "range": ["#6b6b6b","#111111","#e3262b","#16a02a","#ffffff","#7a1f1f","#3cb5b5","#a4449c","#e0874a","#7d8e9c","#3a7ab8","#1f3596","#d6322e","#2b3a92","#c0392b","#2f6ea0"]}}}},
{"data": {"name": "La"}, "transform": [{"filter": "datum.g == 'sma'"}], "mark": {"type": "text", "align": "left", "baseline": "middle", "font": "DejaVu Sans", "fontSize": 7.5, "fontWeight": "bold"},
 "encoding": {"y": {"field": "p", "type": "quantitative"}, "text": {"field": "t"}, "color": {"field": "r", "type": "nominal", "legend": null, "scale": {"domain": ["gray","black","up","dn","white","s5","s10","s20","s60","s120","s240","blue","red","navy","vma5","vma20"], "range": ["#6b6b6b","#111111","#e3262b","#16a02a","#ffffff","#7a1f1f","#3cb5b5","#a4449c","#e0874a","#7d8e9c","#3a7ab8","#1f3596","#d6322e","#2b3a92","#c0392b","#2f6ea0"]}}}},
{"data": {"name": "La"}, "transform": [{"filter": "datum.g == 'big'"}], "mark": {"type": "text", "align": "left", "baseline": "middle", "font": "Noto Sans CJK TC", "fontSize": 15.6, "fontWeight": "bold"},
 "encoding": {"y": {"field": "p", "type": "quantitative"}, "text": {"field": "t"}, "color": {"field": "r", "type": "nominal", "legend": null, "scale": {"domain": ["gray","black","up","dn","white","s5","s10","s20","s60","s120","s240","blue","red","navy","vma5","vma20"], "range": ["#6b6b6b","#111111","#e3262b","#16a02a","#ffffff","#7a1f1f","#3cb5b5","#a4449c","#e0874a","#7d8e9c","#3a7ab8","#1f3596","#d6322e","#2b3a92","#c0392b","#2f6ea0"]}}}},
{"data": {"name": "La"}, "transform": [{"filter": "datum.g == 'name'"}], "mark": {"type": "text", "align": "left", "baseline": "middle", "font": "Noto Sans CJK TC", "fontSize": 18, "fontWeight": "normal"},
 "encoding": {"y": {"field": "p", "type": "quantitative"}, "text": {"field": "t"}, "color": {"field": "r", "type": "nominal", "legend": null, "scale": {"domain": ["gray","black","up","dn","white","s5","s10","s20","s60","s120","s240","blue","red","navy","vma5","vma20"], "range": ["#6b6b6b","#111111","#e3262b","#16a02a","#ffffff","#7a1f1f","#3cb5b5","#a4449c","#e0874a","#7d8e9c","#3a7ab8","#1f3596","#d6322e","#2b3a92","#c0392b","#2f6ea0"]}}}},
{"data": {"name": "La"}, "transform": [{"filter": "datum.g == 'lblc'"}], "mark": {"type": "text", "align": "center", "baseline": "middle", "font": "DejaVu Sans", "fontSize": 7.5, "fontWeight": "bold"},
 "encoding": {"y": {"field": "p", "type": "quantitative"}, "text": {"field": "t"}, "color": {"field": "r", "type": "nominal", "legend": null, "scale": {"domain": ["gray","black","up","dn","white","s5","s10","s20","s60","s120","s240","blue","red","navy","vma5","vma20"], "range": ["#6b6b6b","#111111","#e3262b","#16a02a","#ffffff","#7a1f1f","#3cb5b5","#a4449c","#e0874a","#7d8e9c","#3a7ab8","#1f3596","#d6322e","#2b3a92","#c0392b","#2f6ea0"]}}}}
]
},
{"width": 49, "height": 1, "data": {"values": []}, "mark": "point", "encoding": {}},
{
"width": 464, "height": 290,
"encoding": {"x": {"field": "i", "type": "quantitative", "scale": {"domain": [-0.83, 71.45], "nice": false, "zero": false}, "axis": null}},
"layer": [
{"data": {"name": "R"}, "mark": {"type": "rule", "strokeWidth": 1},
 "encoding": {"y": {"field": "l", "type": "quantitative", "scale": {"domain": [55.74, 146.48], "nice": false, "zero": false}, "axis": {"orient": "right", "values": [60, 65, 70, 75, 80, 85, 90, 95, 100, 105, 110, 115, 120, 125, 130, 135, 140], "tickCount": 40, "format": ".1f", "labelOverlap": false, "labelBound": false, "labelFont": "DejaVu Sans", "labelFontSize": 7.5, "labelFontWeight": "bold", "labelColor": "#333333", "domain": false, "ticks": false, "labelPadding": 2, "title": null}},
  "y2": {"field": "h"}, "color": {"condition": {"test": "datum.c >= datum.o", "value": "#e0403a"}, "value": "#111111"}}},
{"data": {"values": [{"i": -0.83, "i2": 71.45, "p": 55.74, "p2": 143.03}]}, "mark": {"type": "rect", "filled": false, "stroke": "#c9aedc", "strokeWidth": 1.2}, "encoding": {"x2": {"field": "i2"}, "y": {"field": "p", "type": "quantitative"}, "y2": {"field": "p2"}}},
{"data": {"name": "R"}, "mark": {"type": "bar", "width": 4.4, "orient": "vertical", "strokeWidth": 0.8},
 "encoding": {"y": {"field": "o", "type": "quantitative"}, "y2": {"field": "c"}, "fill": {"condition": {"test": "datum.c >= datum.o", "value": "#f39a93"}, "value": "#111111"}, "stroke": {"condition": {"test": "datum.c >= datum.o", "value": "#e0403a"}, "value": "#111111"}}},
{"data": {"name": "Rm"}, "transform": [{"filter": "datum.m == '120'"}], "mark": {"type": "line", "color": "#8d8d8d", "strokeWidth": 1.1, "clip": true, "interpolate": "monotone"}, "encoding": {"y": {"field": "p", "type": "quantitative"}}},
{"data": {"name": "Rm"}, "transform": [{"filter": "datum.m == '60'"}], "mark": {"type": "line", "color": "#e8a466", "strokeWidth": 1.2, "clip": true, "interpolate": "monotone"}, "encoding": {"y": {"field": "p", "type": "quantitative"}}},
{"data": {"name": "Rm"}, "transform": [{"filter": "datum.m == '20'"}], "mark": {"type": "line", "color": "#b24fa6", "strokeWidth": 1.2, "clip": true, "interpolate": "monotone"}, "encoding": {"y": {"field": "p", "type": "quantitative"}}},
{"data": {"name": "Rm"}, "transform": [{"filter": "datum.m == '10'"}], "mark": {"type": "line", "color": "#5cc6c8", "strokeWidth": 1.2, "clip": true, "interpolate": "monotone"}, "encoding": {"y": {"field": "p", "type": "quantitative"}}},
{"data": {"name": "Rm"}, "transform": [{"filter": "datum.m == '5'"}], "mark": {"type": "line", "color": "#5a1c14", "strokeWidth": 1.3, "clip": true, "interpolate": "monotone"}, "encoding": {"y": {"field": "p", "type": "quantitative"}}},
{"data": {"values": [{"i": 30.0, "i2": 71.45, "p": 94.12, "p2": 95.99}]}, "mark": {"type": "rule", "color": "#3d6878", "strokeWidth": 1.3}, "encoding": {"x2": {"field": "i2"}, "y": {"field": "p", "type": "quantitative"}, "y2": {"field": "p2"}}},
{"data": {"name": "Ra"}, "transform": [{"filter": "datum.g == 'lab'"}], "mark": {"type": "text", "align": "left", "baseline": "middle", "font": "DejaVu Sans, Noto Sans CJK TC", "fontSize": 6.5},
 "encoding": {"y": {"field": "p", "type": "quantitative"}, "text": {"field": "t"}, "color": {"field": "r", "type": "nominal", "legend": null, "scale": {"domain": ["gray","black","up","dn","white","s5","s10","s20","s60","s120","s240","blue","red","navy","vma5","vma20"], "range": ["#6b6b6b","#111111","#e3262b","#16a02a","#ffffff","#7a1f1f","#3cb5b5","#a4449c","#e0874a","#7d8e9c","#3a7ab8","#1f3596","#d6322e","#2b3a92","#c0392b","#2f6ea0"]}}}},
{"data": {"name": "Ra"}, "transform": [{"filter": "datum.g == 'val'"}], "mark": {"type": "text", "align": "left", "baseline": "middle", "font": "DejaVu Sans", "fontSize": 7.5, "fontWeight": "bold"},
 "encoding": {"y": {"field": "p", "type": "quantitative"}, "text": {"field": "t"}, "color": {"field": "r", "type": "nominal", "legend": null, "scale": {"domain": ["gray","black","up","dn","white","s5","s10","s20","s60","s120","s240","blue","red","navy","vma5","vma20"], "range": ["#6b6b6b","#111111","#e3262b","#16a02a","#ffffff","#7a1f1f","#3cb5b5","#a4449c","#e0874a","#7d8e9c","#3a7ab8","#1f3596","#d6322e","#2b3a92","#c0392b","#2f6ea0"]}}}},
{"data": {"name": "Ra"}, "transform": [{"filter": "datum.g == 'bigv'"}], "mark": {"type": "text", "align": "left", "baseline": "middle", "font": "DejaVu Sans", "fontSize": 10.5, "fontWeight": "bold"},
 "encoding": {"y": {"field": "p", "type": "quantitative"}, "text": {"field": "t"}, "color": {"field": "r", "type": "nominal", "legend": null, "scale": {"domain": ["gray","black","up","dn","white","s5","s10","s20","s60","s120","s240","blue","red","navy","vma5","vma20"], "range": ["#6b6b6b","#111111","#e3262b","#16a02a","#ffffff","#7a1f1f","#3cb5b5","#a4449c","#e0874a","#7d8e9c","#3a7ab8","#1f3596","#d6322e","#2b3a92","#c0392b","#2f6ea0"]}}}},
{"data": {"name": "Ra"}, "transform": [{"filter": "datum.g == 'sma'"}], "mark": {"type": "text", "align": "left", "baseline": "middle", "font": "DejaVu Sans", "fontSize": 7.5, "fontWeight": "bold"},
 "encoding": {"y": {"field": "p", "type": "quantitative"}, "text": {"field": "t"}, "color": {"field": "r", "type": "nominal", "legend": null, "scale": {"domain": ["gray","black","up","dn","white","s5","s10","s20","s60","s120","s240","blue","red","navy","vma5","vma20"], "range": ["#6b6b6b","#111111","#e3262b","#16a02a","#ffffff","#7a1f1f","#3cb5b5","#a4449c","#e0874a","#7d8e9c","#3a7ab8","#1f3596","#d6322e","#2b3a92","#c0392b","#2f6ea0"]}}}},
{"data": {"name": "Ra"}, "transform": [{"filter": "datum.g == 'big'"}], "mark": {"type": "text", "align": "left", "baseline": "middle", "font": "Noto Sans CJK TC", "fontSize": 15.6, "fontWeight": "bold"},
 "encoding": {"y": {"field": "p", "type": "quantitative"}, "text": {"field": "t"}, "color": {"field": "r", "type": "nominal", "legend": null, "scale": {"domain": ["gray","black","up","dn","white","s5","s10","s20","s60","s120","s240","blue","red","navy","vma5","vma20"], "range": ["#6b6b6b","#111111","#e3262b","#16a02a","#ffffff","#7a1f1f","#3cb5b5","#a4449c","#e0874a","#7d8e9c","#3a7ab8","#1f3596","#d6322e","#2b3a92","#c0392b","#2f6ea0"]}}}},
{"data": {"name": "Ra"}, "transform": [{"filter": "datum.g == 'name'"}], "mark": {"type": "text", "align": "left", "baseline": "middle", "font": "Noto Sans CJK TC", "fontSize": 18, "fontWeight": "normal"},
 "encoding": {"y": {"field": "p", "type": "quantitative"}, "text": {"field": "t"}, "color": {"field": "r", "type": "nominal", "legend": null, "scale": {"domain": ["gray","black","up","dn","white","s5","s10","s20","s60","s120","s240","blue","red","navy","vma5","vma20"], "range": ["#6b6b6b","#111111","#e3262b","#16a02a","#ffffff","#7a1f1f","#3cb5b5","#a4449c","#e0874a","#7d8e9c","#3a7ab8","#1f3596","#d6322e","#2b3a92","#c0392b","#2f6ea0"]}}}},
{"data": {"name": "Ra"}, "transform": [{"filter": "datum.g == 'lbll'"}], "mark": {"type": "text", "align": "left", "baseline": "middle", "font": "DejaVu Sans", "fontSize": 7.5, "fontWeight": "bold"},
 "encoding": {"y": {"field": "p", "type": "quantitative"}, "text": {"field": "t"}, "color": {"field": "r", "type": "nominal", "legend": null, "scale": {"domain": ["gray","black","up","dn","white","s5","s10","s20","s60","s120","s240","blue","red","navy","vma5","vma20"], "range": ["#6b6b6b","#111111","#e3262b","#16a02a","#ffffff","#7a1f1f","#3cb5b5","#a4449c","#e0874a","#7d8e9c","#3a7ab8","#1f3596","#d6322e","#2b3a92","#c0392b","#2f6ea0"]}}}}
]
},
{"width": 30, "height": 1, "data": {"values": []}, "mark": "point", "encoding": {}},
{
"width": 463, "height": 145,
"encoding": {"x": {"field": "i", "type": "quantitative", "scale": {"domain": [-0.733, 71.5], "nice": false, "zero": false},
 "axis": {"values": [0, 15, 36, 48], "tickCount": 40, "labelExpr": "datum.value == 0 ? '2025/12/10' : datum.value == 15 ? '2026/01' : datum.value == 36 ? '02' : '03'", "labelOverlap": false, "labelFont": "DejaVu Sans", "labelFontSize": 7.5, "labelColor": {"condition": {"test": "datum.value == 15", "value": "#333333"}, "value": "#888888"}, "labelFontWeight": {"condition": {"test": "datum.value == 15", "value": "bold"}, "value": "normal"}, "labelAlign": {"condition": {"test": "datum.value == 0", "value": "left"}, "value": "center"}, "domainColor": "#999999", "tickColor": "#999999", "tickSize": 3, "labelPadding": 1, "title": null}}},
"layer": [
{"data": {"name": "L"}, "mark": {"type": "bar", "width": 4.4, "orient": "vertical", "strokeWidth": 0.8},
 "encoding": {"y": {"field": "v", "type": "quantitative", "scale": {"domain": [0, 401], "nice": false}, "axis": {"orient": "right", "values": [100, 200, 300], "labelExpr": "datum.value + 'K'", "labelOverlap": false, "labelFont": "DejaVu Sans", "labelFontSize": 7.5, "labelFontWeight": "bold", "labelColor": "#333333", "domain": false, "ticks": false, "labelPadding": 2, "title": null}},
  "fill": {"condition": [{"test": "datum.d == 'up'", "value": "#ec6a62"}, {"test": "datum.d == 'dn'", "value": "#58b558"}], "value": "#333333"},
  "stroke": {"condition": [{"test": "datum.d == 'up'", "value": "#c23b33"}, {"test": "datum.d == 'dn'", "value": "#2f8a2f"}], "value": "#111111"}}},
{"data": {"name": "Lvm"}, "transform": [{"filter": "datum.m == '20'"}], "mark": {"type": "line", "color": "#4b7fa6", "strokeWidth": 1.2, "interpolate": "monotone"}, "encoding": {"y": {"field": "p", "type": "quantitative"}}},
{"data": {"name": "Lvm"}, "transform": [{"filter": "datum.m == '5'"}], "mark": {"type": "line", "color": "#b5352b", "strokeWidth": 1.2, "interpolate": "monotone"}, "encoding": {"y": {"field": "p", "type": "quantitative"}}},
{"data": {"name": "Lva"}, "mark": {"type": "text", "align": "left", "baseline": "middle", "font": "DejaVu Sans, Noto Sans CJK TC", "fontSize": 7, "fontWeight": "bold"},
 "encoding": {"y": {"field": "p", "type": "quantitative"}, "text": {"field": "t"}, "color": {"field": "r", "type": "nominal", "legend": null, "scale": {"domain": ["gray","black","up","dn","white","s5","s10","s20","s60","s120","s240","blue","red","navy","vma5","vma20"], "range": ["#6b6b6b","#111111","#e3262b","#16a02a","#ffffff","#7a1f1f","#3cb5b5","#a4449c","#e0874a","#7d8e9c","#3a7ab8","#1f3596","#d6322e","#2b3a92","#c0392b","#2f6ea0"]}}}}
]
},
{"width": 49, "height": 1, "data": {"values": []}, "mark": "point", "encoding": {}},
{
"width": 464, "height": 145,
"encoding": {"x": {"field": "i", "type": "quantitative", "scale": {"domain": [-0.83, 71.45], "nice": false, "zero": false},
 "axis": {"values": [0, 15, 36, 48], "tickCount": 40, "labelExpr": "datum.value == 0 ? '2025/12/10' : datum.value == 15 ? '2026/01' : datum.value == 36 ? '02' : '03'", "labelOverlap": false, "labelFont": "DejaVu Sans", "labelFontSize": 7.5, "labelColor": {"condition": {"test": "datum.value == 15", "value": "#333333"}, "value": "#888888"}, "labelFontWeight": {"condition": {"test": "datum.value == 15", "value": "bold"}, "value": "normal"}, "labelAlign": {"condition": {"test": "datum.value == 0", "value": "left"}, "value": "center"}, "domainColor": "#999999", "tickColor": "#999999", "tickSize": 3, "labelPadding": 1, "title": null}}},
"layer": [
{"data": {"name": "R"}, "mark": {"type": "bar", "width": 4.4, "orient": "vertical", "strokeWidth": 0.8},
 "encoding": {"y": {"field": "v", "type": "quantitative", "scale": {"domain": [0, 608], "nice": false}, "axis": {"orient": "right", "values": [200, 400], "labelExpr": "datum.value + 'K'", "labelOverlap": false, "labelFont": "DejaVu Sans", "labelFontSize": 7.5, "labelFontWeight": "bold", "labelColor": "#333333", "domain": false, "ticks": false, "labelPadding": 2, "title": null}},
  "fill": {"condition": [{"test": "datum.d == 'up'", "value": "#ec6a62"}, {"test": "datum.d == 'dn'", "value": "#58b558"}], "value": "#333333"},
  "stroke": {"condition": [{"test": "datum.d == 'up'", "value": "#c23b33"}, {"test": "datum.d == 'dn'", "value": "#2f8a2f"}], "value": "#111111"}}},
{"data": {"name": "Rvm"}, "transform": [{"filter": "datum.m == '20'"}], "mark": {"type": "line", "color": "#4b7fa6", "strokeWidth": 1.2, "interpolate": "monotone"}, "encoding": {"y": {"field": "p", "type": "quantitative"}}},
{"data": {"name": "Rvm"}, "transform": [{"filter": "datum.m == '5'"}], "mark": {"type": "line", "color": "#b5352b", "strokeWidth": 1.2, "interpolate": "monotone"}, "encoding": {"y": {"field": "p", "type": "quantitative"}}},
{"data": {"name": "Rva"}, "mark": {"type": "text", "align": "left", "baseline": "middle", "font": "DejaVu Sans, Noto Sans CJK TC", "fontSize": 7, "fontWeight": "bold"},
 "encoding": {"y": {"field": "p", "type": "quantitative"}, "text": {"field": "t"}, "color": {"field": "r", "type": "nominal", "legend": null, "scale": {"domain": ["gray","black","up","dn","white","s5","s10","s20","s60","s120","s240","blue","red","navy","vma5","vma20"], "range": ["#6b6b6b","#111111","#e3262b","#16a02a","#ffffff","#7a1f1f","#3cb5b5","#a4449c","#e0874a","#7d8e9c","#3a7ab8","#1f3596","#d6322e","#2b3a92","#c0392b","#2f6ea0"]}}}}
]
},
{"width": 30, "height": 1, "data": {"values": []}, "mark": "point", "encoding": {}},
{
"width": 463, "height": 72,
"layer": [
{"data": {"values": [{"a": -0.0648, "a2": 2.095, "b": 0.4444}]}, "mark": {"type": "rule", "color": "#4a4a4a", "strokeWidth": 1},
 "encoding": {"x": {"field": "a", "type": "quantitative", "scale": {"domain": [0, 1], "nice": false, "zero": false}, "axis": null}, "x2": {"field": "a2"}, "y": {"field": "b", "type": "quantitative", "scale": {"domain": [0, 1], "reverse": true, "nice": false, "zero": false}, "axis": null}}},
{"data": {"values": [{"a": -0.0648, "a2": 0.2592, "b": 0.958}]}, "mark": {"type": "rule", "color": "#7dbb42", "strokeWidth": 3},
 "encoding": {"x": {"field": "a", "type": "quantitative"}, "x2": {"field": "a2"}, "y": {"field": "b", "type": "quantitative"}}},
{"data": {"values": [{"a": 2.041, "b": 0.583, "b2": 0.847}]}, "mark": {"type": "rule", "color": "#9aa3b5", "strokeWidth": 1},
 "encoding": {"x": {"field": "a", "type": "quantitative"}, "y": {"field": "b", "type": "quantitative"}, "y2": {"field": "b2"}}},
{"data": {"values": [{"a": 1.8164, "a2": 1.8575, "b": 0.5556, "b2": 0.8611}]}, "mark": {"type": "rect", "color": "#1f4f96"},
 "encoding": {"x": {"field": "a", "type": "quantitative"}, "x2": {"field": "a2"}, "y": {"field": "b", "type": "quantitative"}, "y2": {"field": "b2"}}},
{"data": {"values": [{"a": 1.837, "a2": 1.8575, "b": 0.5556, "b2": 0.70}]}, "mark": {"type": "rect", "color": "#f29a1f"},
 "encoding": {"x": {"field": "a", "type": "quantitative"}, "x2": {"field": "a2"}, "y": {"field": "b", "type": "quantitative"}, "y2": {"field": "b2"}}},
{"data": {"values": [{"a": 1.0, "b": 0.3056, "t": "本資料僅供參考，不保證其完整性及精確性，並不提供為買賣股票之投資依據，投資人應審慎衡量本身之投資風險，並就投資結果自行負責。"}]},
 "mark": {"type": "text", "align": "center", "baseline": "middle", "font": "Noto Sans CJK TC", "fontSize": 9.5, "color": "#444444"},
 "encoding": {"x": {"field": "a", "type": "quantitative"}, "y": {"field": "b", "type": "quantitative"}, "text": {"field": "t"}}},
{"data": {"values": [{"a": 1.864, "b": 0.639, "t": "凱基投顧"}]},
 "mark": {"type": "text", "align": "left", "baseline": "middle", "font": "Noto Sans CJK TC", "fontSize": 16, "fontWeight": "bold", "color": "#1c3f7a"},
 "encoding": {"x": {"field": "a", "type": "quantitative"}, "y": {"field": "b", "type": "quantitative"}, "text": {"field": "t"}}},
{"data": {"values": [{"a": 1.864, "b": 0.83, "t": "KGI INVESTMENT ADVISORY"}]},
 "mark": {"type": "text", "align": "left", "baseline": "middle", "font": "Roboto", "fontSize": 5.5, "color": "#1c3f7a"},
 "encoding": {"x": {"field": "a", "type": "quantitative"}, "y": {"field": "b", "type": "quantitative"}, "text": {"field": "t"}}},
{"data": {"values": [{"a": 2.067, "b": 0.75, "t": "凱基金控成員"}]},
 "mark": {"type": "text", "align": "left", "baseline": "middle", "font": "Noto Sans CJK TC", "fontSize": 8.5, "color": "#1c3f7a"},
 "encoding": {"x": {"field": "a", "type": "quantitative"}, "y": {"field": "b", "type": "quantitative"}, "text": {"field": "t"}}},
{"data": {"values": [{"a": 2.229, "b": 0.0694, "t": "5"}]},
 "mark": {"type": "text", "align": "center", "baseline": "middle", "font": "Roboto", "fontSize": 15, "color": "#3a6ea5"},
 "encoding": {"x": {"field": "a", "type": "quantitative"}, "y": {"field": "b", "type": "quantitative"}, "text": {"field": "t"}}}
]
},
{"width": 49, "height": 1, "data": {"values": []}, "mark": "point", "encoding": {}},
{"width": 464, "height": 1, "data": {"values": []}, "mark": "point", "encoding": {}}
]
}
